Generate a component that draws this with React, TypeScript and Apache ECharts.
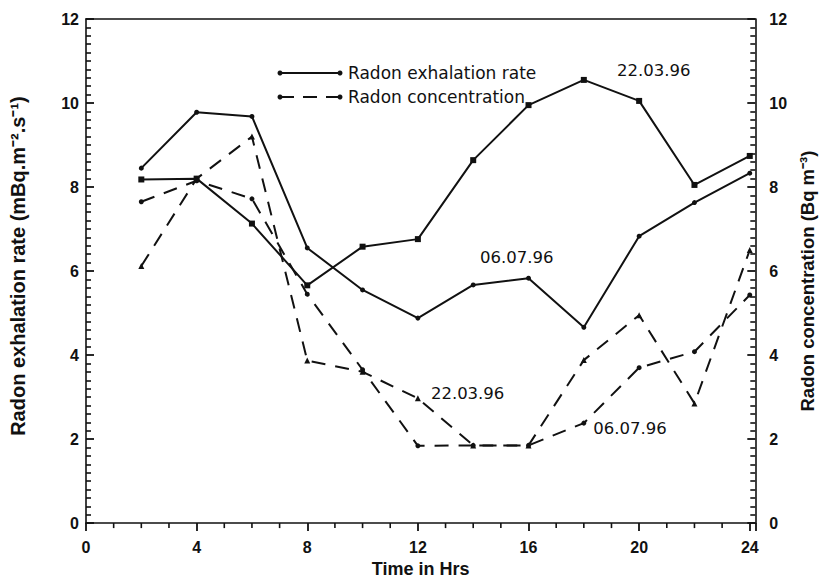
import React, { useEffect, useRef } from 'react';
import * as echarts from 'echarts';

// Time of day (hours)
const hours = [2, 4, 6, 8, 10, 12, 14, 16, 18, 20, 22, 24];

// Radon exhalation rate (mBq.m-2.s-1)
const exhalation220396 = [8.18, 8.2, 7.13, 5.66, 6.58, 6.76, 8.64, 9.95, 10.55, 10.05, 8.05, 8.74];
const exhalation060796 = [8.45, 9.78, 9.68, 6.55, 5.55, 4.88, 5.67, 5.83, 4.66, 6.83, 7.63, 8.33];

// Radon concentration (Bq m-3)
const concentration220396 = [6.12, 8.2, 9.2, 3.87, 3.6, 2.97, 1.85, 1.85, 3.88, 4.95, 2.85, 6.5];
const concentration060796 = [7.65, 8.15, 7.72, 5.45, 3.65, 1.84, 1.85, 1.85, 2.38, 3.7, 4.08, 5.43];

// Date annotations: [hour, value, text]
const annotExhal220396: [number, number, string] = [19.2, 10.77, '22.03.96'];
const annotExhal060796: [number, number, string] = [14.25, 6.32, '06.07.96'];
const annotConc220396: [number, number, string] = [12.47, 3.08, '22.03.96'];
const annotConc060796: [number, number, string] = [18.34, 2.25, '06.07.96'];

const xTickLabels = [0, 4, 8, 12, 16, 20, 24];
const yTickLabels = [0, 2, 4, 6, 8, 10, 12];
const X_MAX = 24.2;

const INK = '#111';
const TICK_FONT = { fontFamily: 'Liberation Sans', fontWeight: 'bold' as const, fontSize: 16, color: INK };
const TITLE_FONT = { fontFamily: 'Liberation Sans', fontWeight: 'bold' as const, fontSize: 19, color: INK };
const ANNOT_FONT = { fontFamily: 'DejaVu Sans', fontSize: 16.5, color: INK };

const pairs = (vals: number[]) => hours.map((h, i) => [h, vals[i]]);

const annot = (a: [number, number, string]) => ({
  silent: true,
  symbol: 'circle',
  symbolSize: 0,
  itemStyle: { color: 'transparent' },
  label: { show: true, position: 'right', distance: 0, formatter: '{b}', ...ANNOT_FONT },
  data: [{ name: a[2], coord: [a[0], a[1]] }],
});

const legendGraphics = [
  { type: 'line', shape: { x1: 280, y1: 73, x2: 340, y2: 73 }, style: { stroke: INK, lineWidth: 2 } },
  { type: 'circle', shape: { cx: 280, cy: 73, r: 2.5 }, style: { fill: INK } },
  { type: 'circle', shape: { cx: 340, cy: 73, r: 2.5 }, style: { fill: INK } },
  { type: 'text', x: 348, y: 73, style: { text: 'Radon exhalation rate', fill: INK, font: '17px "DejaVu Sans"', textVerticalAlign: 'middle' } },
  { type: 'line', shape: { x1: 280, y1: 97, x2: 340, y2: 97 }, style: { stroke: INK, lineWidth: 2, lineDash: [14, 9] } },
  { type: 'circle', shape: { cx: 280, cy: 97, r: 2.5 }, style: { fill: INK } },
  { type: 'circle', shape: { cx: 340, cy: 97, r: 2.5 }, style: { fill: INK } },
  { type: 'text', x: 348, y: 97, style: { text: 'Radon concentration', fill: INK, font: '17px "DejaVu Sans"', textVerticalAlign: 'middle' } },
];

export default function App() {
  const ref = useRef<HTMLDivElement>(null);
  useEffect(() => {
    const chart = echarts.init(ref.current!, null, { renderer: 'svg' });
    const axisLine = { show: true, onZero: false, lineStyle: { color: INK, width: 1.6 } };
    const yAxisBase = (pos: 'left' | 'right', name: string, gap: number, size: number, pad: number[]) => ({
      type: 'value',
      position: pos,
      min: 0,
      max: 12,
      interval: 2,
      name,
      nameLocation: 'middle',
      nameRotate: 90,
      nameGap: gap,
      nameTextStyle: { ...TITLE_FONT, fontSize: size, padding: pad },
      axisLine,
      axisTick: { show: true, inside: true, length: 8, lineStyle: { color: INK, width: 1.8 } },
      minorTick: { show: true, splitNumber: 10, length: 5, lineStyle: { color: INK, width: 1.6 } },
      axisLabel: {
        ...TICK_FONT,
        margin: pos === 'left' ? 7 : 14,
        formatter: (v: number) => (yTickLabels.includes(v) ? String(v) : ''),
      },
      splitLine: { show: false },
    });
    const option = {
      animation: false,
      backgroundColor: '#fff',
      grid: { left: 86, right: 58, top: 19, bottom: 57 },
      xAxis: [
        {
          type: 'value',
          min: 0,
          max: X_MAX,
          interval: 4,
          position: 'bottom',
          name: 'Time in Hrs',
          nameLocation: 'middle',
          nameGap: 36,
          nameTextStyle: { ...TITLE_FONT, fontSize: 18 },
          axisLine,
          axisTick: { show: true, inside: false, length: 8, lineStyle: { color: INK, width: 1.8 } },
          axisLabel: {
            ...TICK_FONT,
            margin: 16,
            formatter: (v: number) => (xTickLabels.includes(v) ? String(v) : ''),
          },
          splitLine: { show: false },
        },
        {
          type: 'value',
          min: 0,
          max: X_MAX,
          position: 'top',
          axisLine,
          axisTick: { show: false },
          axisLabel: { show: false },
          splitLine: { show: false },
        },
      ],
      yAxis: [
        yAxisBase('left', 'Radon exhalation rate (mBq.m⁻².s⁻¹)', 58, 20, [0, 0, 0, 10]),
        yAxisBase('right', 'Radon concentration (Bq m⁻³)', 36, 18.5, [0, 20, 0, 0]),
      ],
      series: [
        {
          name: 'Radon exhalation rate',
          type: 'line',
          data: pairs(exhalation220396),
          symbol: 'rect',
          symbolSize: 6,
          lineStyle: { color: INK, width: 2 },
          itemStyle: { color: INK },
          markPoint: annot(annotExhal220396),
        },
        {
          name: 'Radon exhalation rate',
          type: 'line',
          data: pairs(exhalation060796),
          symbol: 'circle',
          symbolSize: 5,
          lineStyle: { color: INK, width: 2 },
          itemStyle: { color: INK },
          markPoint: annot(annotExhal060796),
        },
        {
          name: 'Radon concentration',
          type: 'line',
          yAxisIndex: 1,
          data: pairs(concentration220396),
          symbol: 'triangle',
          symbolSize: 6,
          lineStyle: { color: INK, width: 2, type: [14, 10] },
          itemStyle: { color: INK },
          markPoint: annot(annotConc220396),
        },
        {
          name: 'Radon concentration',
          type: 'line',
          yAxisIndex: 1,
          data: pairs(concentration060796),
          symbol: 'circle',
          symbolSize: 5,
          lineStyle: { color: INK, width: 2, type: [14, 10] },
          itemStyle: { color: INK },
          markPoint: annot(annotConc060796),
        },
      ],
    };
    chart.setOption(option as any);

    // Hourly minor ticks on the time axis, positioned through the chart's own scale.
    const ticks: any[] = [];
    for (let h = 1; h < 24; h++) {
      if (h % 4 === 0) continue;
      const p = chart.convertToPixel({ seriesIndex: 0 } as any, [h, 0]) as number[];
      if (!p || !isFinite(p[0])) continue;
      ticks.push({
        type: 'line',
        silent: true,
        shape: { x1: p[0], y1: p[1], x2: p[0], y2: p[1] + 5 },
        style: { stroke: INK, lineWidth: 1.6 },
      });
    }
    chart.setOption({ graphic: [...legendGraphics, ...ticks] } as any);
    return () => chart.dispose();
  }, []);
  return (
    <div
      ref={ref}
      style={{ position: 'fixed', left: 0, top: 0, width: 825, height: 583, background: '#fff' }}
    />
  );
}
